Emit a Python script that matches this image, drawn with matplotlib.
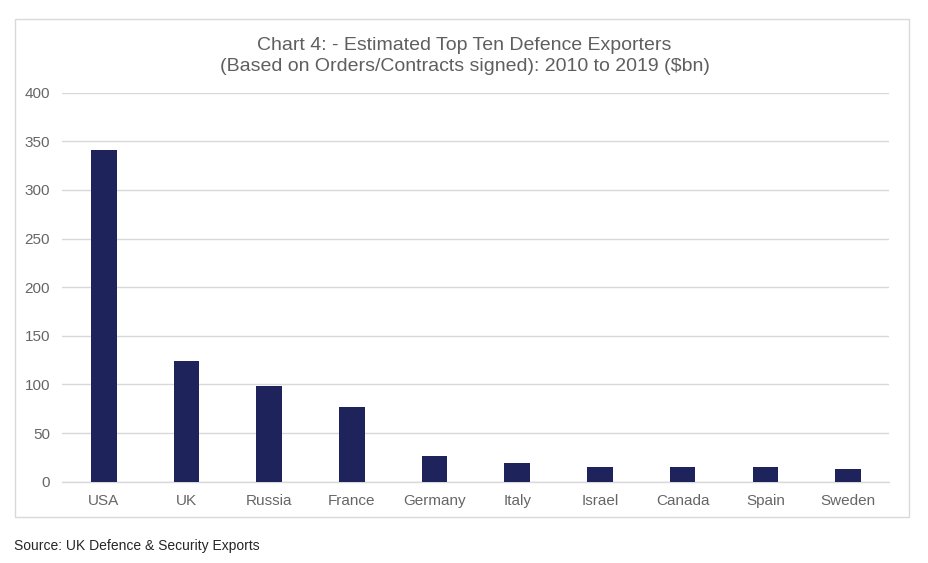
import matplotlib

matplotlib.use("Agg")
import matplotlib.pyplot as plt
from matplotlib.patches import Rectangle

plt.rcParams["font.family"] = ["Liberation Sans", "DejaVu Sans"]

# Values ($bn, 2010-2019)
countries = ["USA", "UK", "Russia", "France", "Germany",
             "Italy", "Israel", "Canada", "Spain", "Sweden"]
exports = [341, 124, 98, 77, 26, 19, 15.5, 15, 15, 13]
y_ticks = [0, 50, 100, 150, 200, 250, 300, 350, 400]

BAR = "#1f235b"
GRID = "#d9d9d9"
TEXT = "#666666"

fig = plt.figure(figsize=(9.29, 5.63), dpi=100)
ax = fig.add_axes([0.0672, 0.1444, 0.8902, 0.6909])

x = range(len(countries))
ax.bar(x, exports, width=0.31, color=BAR, zorder=3)

ax.set_xlim(-0.5, len(countries) - 0.5)
ax.set_ylim(0, 400)
ax.set_yticks(y_ticks)
ax.set_xticks(list(x))
ax.set_xticklabels(countries)
ax.grid(axis="y", color=GRID, linewidth=1.0, zorder=0)
for side in ("top", "right", "left"):
    ax.spines[side].set_visible(False)
ax.spines["bottom"].set_color(GRID)
ax.spines["bottom"].set_linewidth(1.0)
ax.tick_params(axis="both", length=0, labelsize=11, labelcolor=TEXT)
ax.tick_params(axis="y", pad=9)
ax.tick_params(axis="x", pad=9)

fig.text(0.5, 0.901,
         "Chart 4: - Estimated Top Ten Defence Exporters\n"
         "(Based on Orders/Contracts signed): 2010 to 2019 ($bn)",
         ha="center", va="center", fontsize=14, color="#5f5f5f", linespacing=1.32)

# light outer frame around the chart area
fig.patches.append(Rectangle((15 / 929, 1 - 517 / 563), (909 - 15) / 929,
                             (517 - 19) / 563, transform=fig.transFigure,
                             fill=False, edgecolor=GRID, linewidth=1.0))

fig.text(14 / 929, 1 - 546 / 563, "Source: UK Defence & Security Exports",
         ha="left", va="center", fontsize=10, color="#262626")

fig.savefig("out.png", dpi=100)
